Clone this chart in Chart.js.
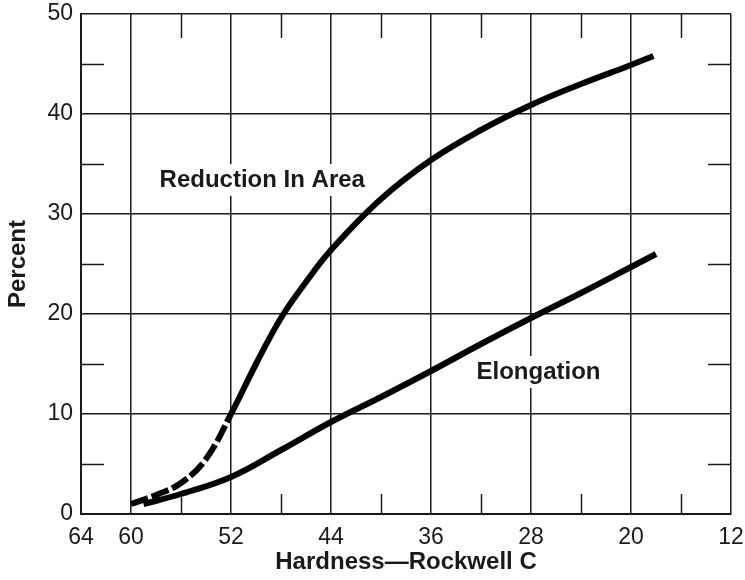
<!DOCTYPE html>
<html>
<head>
<meta charset="utf-8">
<title>Hardness vs Ductility</title>
<script src="https://cdn.jsdelivr.net/npm/chart.js@4.4.1/dist/chart.umd.min.js"></script>
<style>
  html, body { margin: 0; padding: 0; background: #fff; }
</style>
</head>
<body>
<canvas id="chart" width="745" height="580"></canvas>
<script>
// Hardness (Rockwell C) readings for each curve
const reductionHardness = [60, 58, 56, 54, 52, 50, 48, 46, 44, 40, 36, 32, 28, 24, 20, 18.2];
const reductionPercent  = [1.0, 1.9, 3.1, 5.5, 10, 15, 19.6, 23.2, 26.4, 31.5, 35.4, 38.4, 40.9, 43.0, 44.9, 45.8];

const elongationHardness = [59, 56, 52, 48, 44, 40, 36, 32, 28, 24, 20, 18];
const elongationPercent  = [1.0, 2.0, 3.7, 6.4, 9.2, 11.7, 14.3, 17.0, 19.6, 22.1, 24.7, 26.0];

// Axis ticks
const hardnessTicks = [64, 60, 52, 44, 36, 28, 20, 12];
const hardnessMinor = [56, 48, 40, 32, 24, 16];
const percentTicks = [0, 10, 20, 30, 40, 50];
const percentMinor = [5, 15, 25, 35, 45];

const INK = '#1a1a1a';
const FONT = '"Liberation Sans", Arial, Helvetica, sans-serif';

const toPoints = (xs, ys) => xs.map((v, i) => ({ x: v, y: ys[i] }));

// Draws the short inner tick marks and the curve labels
const framePlugin = {
    id: 'framePlugin',
    beforeDatasetsDraw(chart) {
        const { ctx, chartArea: a, scales: { x, y } } = chart;
        ctx.save();
        ctx.strokeStyle = INK;
        ctx.lineWidth = 1.5;
        ctx.beginPath();
        hardnessMinor.forEach(v => {
            const px = Math.round(x.getPixelForValue(v)) + 0.5;
            ctx.moveTo(px, a.top); ctx.lineTo(px, a.top + 24);
            ctx.moveTo(px, a.bottom); ctx.lineTo(px, a.bottom - 20);
        });
        percentMinor.forEach(v => {
            const py = Math.round(y.getPixelForValue(v)) + 0.5;
            ctx.moveTo(a.left, py); ctx.lineTo(a.left + 23, py);
            ctx.moveTo(a.right, py); ctx.lineTo(a.right - 23, py);
        });
        ctx.stroke();

        // curve labels with a white knock-out behind them
        const labels = [
            { text: 'Reduction In Area', hx: 49.5, py: 33.4 },
            { text: 'Elongation', hx: 27.4, py: 14.2 }
        ];
        ctx.font = 'bold 24px ' + FONT;
        ctx.textAlign = 'center';
        ctx.textBaseline = 'middle';
        labels.forEach(l => {
            const cx = x.getPixelForValue(l.hx);
            const cy = y.getPixelForValue(l.py);
            const w = ctx.measureText(l.text).width;
            ctx.fillStyle = '#fff';
            ctx.fillRect(cx - w / 2 - 4, cy - 16, w + 8, 32);
            ctx.fillStyle = INK;
            ctx.fillText(l.text, cx, cy);
        });
        ctx.restore();
    }
};

const ctx = document.getElementById('chart').getContext('2d');

new Chart(ctx, {
    type: 'line',
    data: {
        datasets: [
            {
                label: 'Reduction In Area',
                data: toPoints(reductionHardness, reductionPercent),
                borderColor: '#000',
                borderWidth: 6,
                pointRadius: 0,
                tension: 0.4,
                // the low-hardness end is drawn broken in the original
                segment: {
                    borderDash: c => c.p0.parsed.x > 52.5 ? [18, 4] : []
                }
            },
            {
                label: 'Elongation',
                data: toPoints(elongationHardness, elongationPercent),
                borderColor: '#000',
                borderWidth: 6,
                pointRadius: 0,
                tension: 0.4
            }
        ]
    },
    options: {
        responsive: false,
        animation: false,
        layout: { padding: { top: 14, right: 14, left: 0, bottom: 0 } },
        plugins: {
            legend: { display: false },
            tooltip: { enabled: false }
        },
        scales: {
            x: {
                type: 'linear',
                reverse: true,
                min: 12,
                max: 64,
                afterBuildTicks: s => { s.ticks = hardnessTicks.map(v => ({ value: v })); },
                afterFit: s => { s.height = 66; s.paddingLeft = 0; s.paddingRight = 0; },
                grid: { color: INK, lineWidth: 1.5, drawTicks: false },
                border: { color: INK, width: 2 },
                ticks: {
                    color: INK,
                    padding: 10,
                    maxRotation: 0,
                    autoSkip: false,
                    font: { family: FONT, size: 23 }
                },
                title: {
                    display: true,
                    text: 'Hardness\u2014Rockwell C',
                    color: INK,
                    padding: { top: 0, bottom: 3 },
                    font: { family: FONT, size: 24, weight: 'bold' }
                }
            },
            y: {
                min: 0,
                max: 50,
                afterBuildTicks: s => { s.ticks = percentTicks.map(v => ({ value: v })); },
                afterFit: s => { s.width = 81; s.paddingTop = 0; s.paddingBottom = 0; },
                grid: { color: INK, lineWidth: 1.5, drawTicks: false },
                border: { color: INK, width: 2 },
                ticks: {
                    color: INK,
                    padding: 8,
                    font: { family: FONT, size: 23 }
                },
                title: {
                    display: true,
                    text: 'Percent',
                    color: INK,
                    padding: { top: 4, bottom: 0 },
                    font: { family: FONT, size: 24, weight: 'bold' }
                }
            }
        }
    },
    plugins: [framePlugin]
});
</script>
</body>
</html>
